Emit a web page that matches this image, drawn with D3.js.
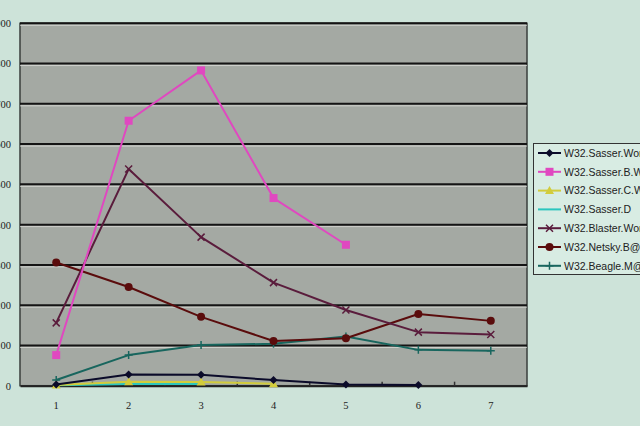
<!DOCTYPE html>
<html><head><meta charset="utf-8">
<script src="https://cdn.jsdelivr.net/npm/d3@7"></script>
<style>
html,body{margin:0;padding:0;background:#cde3d9;overflow:hidden;}
svg{display:block;}
</style></head>
<body>
<script>
const categories = ["1","2","3","4","5","6","7"];
const yTicks = [0,100,200,300,400,500,600,700,800,900];
const seriesNames = ["W32.Sasser.Worm","W32.Sasser.B.Worm","W32.Sasser.C.Worm","W32.Sasser.D","W32.Blaster.Worm","W32.Netsky.B@mm","W32.Beagle.M@mm"];
const sasserWorm  = [3, 28, 27, 14, 3, 2];
const sasserB     = [76, 658, 783, 466, 350];
const sasserC     = [2, 10, 9, 5];
const sasserD     = [1, 4, 4];
const blaster     = [156, 538, 369, 256, 188, 133, 127];
const netsky      = [306, 245, 171, 111, 118, 178, 161];
const beagle      = [14, 76, 101, 104, 122, 89, 87];

(function () {
const seriesValues = [sasserWorm, sasserB, sasserC, sasserD, blaster, netsky, beagle];
const colors  = ["#0b0b2a","#e048c0","#d2cc3c","#2cc6be","#5a1c3c","#5a0c0c","#18665e"];
const markers = ["diamond","square","triangle","none","x","circle","plus"];
const drawOrder = [6,5,4,3,2,1,0];

const W = 640, H = 426;
const svg = d3.select("body").append("svg").attr("width", W).attr("height", H);

svg.append("rect").attr("width", W).attr("height", H).attr("fill", "#cde3d9");

const pL = 20, pR = 527, pT = 23.3, pB = 385.7;
const x = d3.scaleBand().domain(categories).range([pL, pR]);
const cx = c => x(c) + x.bandwidth() / 2;
const y = d3.scaleLinear().domain([0, 900]).range([pB, pT]);

svg.append("rect").attr("x", pL).attr("y", pT).attr("width", pR - pL).attr("height", pB - pT)
  .attr("fill", "#a4a9a3").attr("stroke", "#3a3f3c").attr("stroke-width", 1.5);

const grid = svg.append("g");
yTicks.slice(1).forEach(t => {
  grid.append("line").attr("x1", pL).attr("x2", pR).attr("y1", y(t) + 2).attr("y2", y(t) + 2)
    .attr("stroke", "#e4e4e0").attr("stroke-width", 1).attr("opacity", 0.7);
  grid.append("line").attr("x1", pL).attr("x2", pR).attr("y1", y(t)).attr("y2", y(t))
    .attr("stroke", "#141414").attr("stroke-width", 2);
});

const yAxis = d3.axisLeft(y).tickValues(yTicks).tickSize(0).tickPadding(0);
const yg = svg.append("g").attr("transform", "translate(11,0)").call(yAxis);
yg.select(".domain").remove();
yg.selectAll("text").attr("font-family", "Liberation Serif, serif").attr("font-size", 10.5).attr("fill", "#222");

const xAxis = d3.axisBottom(x).tickSize(0).tickPadding(0);
const xg = svg.append("g").attr("transform", `translate(0,${pB})`).call(xAxis);
xg.select(".domain").attr("stroke", "#222").attr("stroke-width", 2);
xg.selectAll("text").attr("font-family", "Liberation Serif, serif").attr("font-size", 10.5).attr("fill", "#222").attr("dy", 23);
categories.slice(1).forEach(c => {
  svg.append("line").attr("x1", x(c)).attr("x2", x(c)).attr("y1", pB - 4).attr("y2", pB)
    .attr("stroke", "#333").attr("stroke-width", 1.5);
});

function drawMarker(g, type, px, py, color) {
  if (type === "diamond") {
    g.append("path").attr("d", `M${px},${py-4}L${px+4},${py}L${px},${py+4}L${px-4},${py}Z`).attr("fill", color);
  } else if (type === "square") {
    g.append("rect").attr("x", px - 4).attr("y", py - 4).attr("width", 8).attr("height", 8).attr("fill", color);
  } else if (type === "triangle") {
    g.append("path").attr("d", `M${px},${py-4.5}L${px+4.5},${py+3.5}L${px-4.5},${py+3.5}Z`).attr("fill", color);
  } else if (type === "circle") {
    g.append("circle").attr("cx", px).attr("cy", py).attr("r", 4).attr("fill", color);
  } else if (type === "x") {
    g.append("path").attr("d", `M${px-3.5},${py-3.5}L${px+3.5},${py+3.5}M${px-3.5},${py+3.5}L${px+3.5},${py-3.5}`)
      .attr("stroke", color).attr("stroke-width", 1.5).attr("fill", "none");
  } else if (type === "plus") {
    g.append("path").attr("d", `M${px-4},${py}L${px+4},${py}M${px},${py-4}L${px},${py+4}`)
      .attr("stroke", color).attr("stroke-width", 1.5).attr("fill", "none");
  }
}

const line = d3.line().x((d, i) => cx(categories[i])).y(d => y(d));
const plot = svg.append("g");
drawOrder.forEach(si => {
  const vals = seriesValues[si];
  plot.append("path").datum(vals).attr("d", line).attr("fill", "none")
    .attr("stroke", colors[si]).attr("stroke-width", 2).attr("stroke-linejoin", "round");
  vals.forEach((v, i) => drawMarker(plot, markers[si], cx(categories[i]), y(v), colors[si]));
});

const lg = svg.append("g");
lg.append("rect").attr("x", 533.5).attr("y", 143.5).attr("width", 120).attr("height", 131)
  .attr("fill", "#d8ece3").attr("stroke", "#333").attr("stroke-width", 1);
seriesNames.forEach((name, i) => {
  const ly = 153 + i * 18.8;
  lg.append("line").attr("x1", 538).attr("x2", 561).attr("y1", ly).attr("y2", ly)
    .attr("stroke", colors[i]).attr("stroke-width", 2);
  drawMarker(lg, markers[i], 549.5, ly, colors[i]);
  lg.append("text").attr("x", 564).attr("y", ly + 3.8).text(name)
    .attr("font-family", "Liberation Sans, Arial, sans-serif").attr("font-size", 10.5).attr("fill", "#222");
});
})();
</script>
</body></html>
